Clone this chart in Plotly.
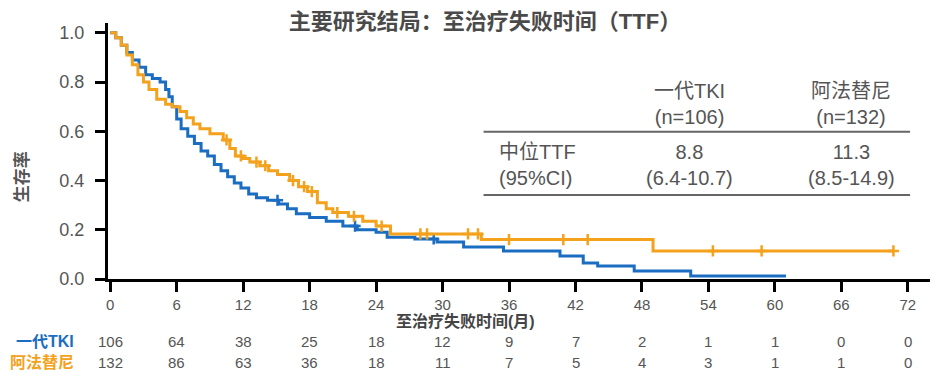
import numpy as np
import plotly.graph_objects as go

# ---------------- data ----------------
title_text = "主要研究结局：至治疗失败时间（TTF）"
series_names = ["一代TKI", "阿法替尼"]

tki_time = [0, 0.5, 1.0, 1.5, 2.0, 2.6, 3.2, 3.8, 4.5, 5.0, 5.3, 5.6, 6.0, 6.4, 7.0, 7.6, 8.2, 8.8,
            9.4, 10.0, 10.6, 11.2, 11.8, 12.5, 13.2, 14.2, 15.2, 16.0, 16.8, 18.0, 19.5, 21.0, 22.3,
            24.0, 25.0, 27.5, 29.5, 31.9, 35.5, 40.6, 42.7, 44.0, 47.3, 52.4, 61.0]
tki_surv = [1.0, 0.98, 0.95, 0.92, 0.89, 0.86, 0.83, 0.815, 0.80, 0.77, 0.74, 0.70, 0.65, 0.61, 0.58,
            0.55, 0.52, 0.50, 0.465, 0.44, 0.415, 0.39, 0.37, 0.345, 0.33, 0.32, 0.305, 0.285, 0.265,
            0.25, 0.235, 0.215, 0.20, 0.19, 0.17, 0.163, 0.15, 0.13, 0.114, 0.093, 0.065, 0.053,
            0.033, 0.012, 0.012]
tki_censor = [15.1, 22.1, 29.2]

afa_time = [0, 0.5, 1.0, 1.5, 2.0, 2.5, 3.0, 3.5, 4.2, 5.0, 5.6, 6.3, 6.9, 7.5, 8.1, 9.0, 10.2, 10.8,
            11.3, 12.0, 12.6, 13.5, 14.3, 15.1, 16.2, 17.0, 17.8, 18.7, 19.5, 20.1, 21.5, 22.8, 24.0,
            25.3, 33.5, 49.0, 70.7]
afa_surv = [1.0, 0.98, 0.95, 0.91, 0.87, 0.83, 0.80, 0.77, 0.73, 0.71, 0.70, 0.68, 0.655, 0.63, 0.61,
            0.59, 0.565, 0.53, 0.50, 0.49, 0.475, 0.46, 0.44, 0.425, 0.40, 0.375, 0.355, 0.31, 0.285,
            0.27, 0.255, 0.235, 0.215, 0.183, 0.16, 0.114, 0.114]
afa_censor = [10.5, 11.8, 13.2, 14.0, 16.5, 17.5, 18.2, 20.5, 22.0, 24.5, 28.0, 28.6, 32.3, 33.2,
              36.0, 40.9, 43.1, 54.4, 58.8, 70.7]

x_ticks = [0, 6, 12, 18, 24, 30, 36, 42, 48, 54, 60, 66, 72]
y_ticks = [0.0, 0.2, 0.4, 0.6, 0.8, 1.0]
risk_tki = [106, 64, 38, 25, 18, 12, 9, 7, 2, 1, 1, 0, 0]
risk_afa = [132, 86, 63, 36, 18, 11, 7, 5, 4, 3, 1, 1, 0]

table_header = ["一代TKI<br>(n=106)", "阿法替尼<br>(n=132)"]
table_rowlabel = "中位TTF<br>(95%CI)"
table_values = ["8.8<br>(6.4-10.7)", "11.3<br>(8.5-14.9)"]

x_title = "至治疗失败时间(月)"
y_title = "生存率"

# ---------------- style ----------------
BLUE = "#1a6dc0"
ORANGE = "#f4a11c"
GRAY = "#555555"
FONT = "Arial, Liberation Sans, Noto Sans CJK SC, sans-serif"

# page body has an 8px margin; figure is sized to fit the window
W, H = 944, 370


def step_value(times, surv, t):
    idx = np.searchsorted(np.array(times), t, side="right") - 1
    return surv[max(idx, 0)]


fig = go.Figure()
for times, surv, cens, col, name in [
    (tki_time, tki_surv, tki_censor, BLUE, series_names[0]),
    (afa_time, afa_surv, afa_censor, ORANGE, series_names[1]),
]:
    fig.add_trace(go.Scatter(x=times, y=surv, mode="lines", line=dict(color=col, width=3, shape="hv"),
                             name=name, showlegend=False))
    fig.add_trace(go.Scatter(x=cens, y=[step_value(times, surv, c) for c in cens], mode="markers",
                             marker=dict(symbol="cross-thin", size=8, line=dict(color=col, width=2.5)),
                             showlegend=False))

fig.update_layout(
    width=W, height=H,
    margin=dict(l=100, r=22, t=15, b=99),
    paper_bgcolor="white", plot_bgcolor="white",
    font=dict(family=FONT, color=GRAY),
    title=dict(text=title_text, x=477 / W, xanchor="center", y=1 - 13 / H, yanchor="middle",
               font=dict(size=22, color="#4a4a4a", family=FONT, weight="bold")),
)
fig.update_xaxes(range=[-0.2, 74], tickvals=x_ticks, ticktext=[str(v) for v in x_ticks],
                 showline=True, linecolor="black", linewidth=3, ticks="outside", ticklen=10,
                 tickwidth=3, tickcolor="black", showgrid=False, zeroline=False,
                 tickfont=dict(size=15, color=GRAY))
fig.update_yaxes(range=[0, 1.04], tickvals=y_ticks, ticktext=[f"{v:.1f}" for v in y_ticks],
                 showline=True, linecolor="black", linewidth=3, ticks="outside", ticklen=10,
                 tickwidth=3, tickcolor="black", showgrid=False, zeroline=False,
                 ticklabelstandoff=7, tickfont=dict(size=18, color=GRAY))

ann = []
# axis titles
ann.append(dict(text=x_title, xref="paper", yref="paper", x=0.4355, y=-0.164, showarrow=False,
                xanchor="center", yanchor="middle",
                font=dict(size=16, color="#444", weight="bold")))
ann.append(dict(text=y_title, xref="paper", yref="paper", x=-0.105, y=0.40, textangle=-90,
                xanchor="center", yanchor="middle",
                showarrow=False, font=dict(size=17, color=GRAY, weight="bold")))
# risk table
for row, vals, col, yy in [(series_names[0], risk_tki, BLUE, -0.246), (series_names[1], risk_afa, ORANGE, -0.328)]:
    ann.append(dict(text=row, xref="paper", yref="paper", x=-0.039, y=yy, xanchor="right",
                    yanchor="middle", showarrow=False, font=dict(size=16, color=col, weight="bold")))
    for t, v in zip(x_ticks, vals):
        ann.append(dict(text=str(v), xref="x", yref="paper", x=t, y=yy, showarrow=False,
                        xanchor="center", yanchor="middle", font=dict(size=15, color=GRAY)))
# inset table
TF = dict(size=20, color=GRAY)
ann.append(dict(text=table_header[0], x=52.3, y=0.71, xref="x", yref="y", showarrow=False, font=TF))
ann.append(dict(text=table_header[1], x=66.9, y=0.71, xref="x", yref="y", showarrow=False, font=TF))
ann.append(dict(text=table_rowlabel, x=34.9, y=0.464, xref="x", yref="y", xanchor="left", align="left",
                showarrow=False, font=TF))
ann.append(dict(text=table_values[0], x=52.3, y=0.464, xref="x", yref="y", showarrow=False, font=TF))
ann.append(dict(text=table_values[1], x=66.9, y=0.464, xref="x", yref="y", showarrow=False, font=TF))
fig.update_layout(annotations=ann)
for yy in [0.598, 0.341]:
    fig.add_shape(type="line", xref="x", yref="y", x0=33.7, x1=72.2, y0=yy, y1=yy,
                  line=dict(color="#666", width=2))

fig.write_html("out.html")
